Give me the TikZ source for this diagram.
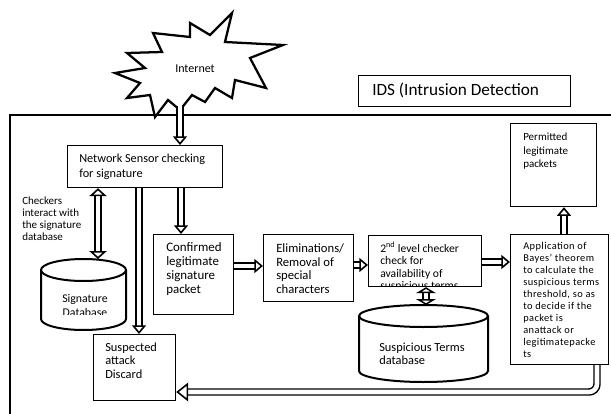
\documentclass[tikz,border=0pt]{standalone}
\usepackage{fontspec}
\setmainfont{Carlito}
\newfontfamily\appfont[LetterSpace=4]{Carlito}
\usetikzlibrary{arrows.meta,calc}
\begin{document}
\begin{tikzpicture}[x=0.75pt,y=-0.75pt,
  box/.style={draw, line width=0.9pt, inner sep=0pt, anchor=north west},
  area/.style={inner sep=0pt, anchor=north west},
  txt/.style={inner sep=0pt, anchor=north west, align=left},
  conn/.style={double, double distance=3.4pt, line width=1.1pt},
  arr/.style={conn, -{Triangle[open,length=6.5pt,width=10.5pt,line width=1.2pt]}},
  barr/.style={conn, {Triangle[open,length=6pt,width=13pt,line width=1.2pt]}-{Triangle[open,length=6pt,width=13pt,line width=1.2pt]}},
  sbarr/.style={conn, {Triangle[open,length=4.5pt,width=15pt,line width=1.2pt]}-{Triangle[open,length=4.5pt,width=15pt,line width=1.2pt]}},
  bigarr/.style={conn, -{Triangle[open,length=9pt,width=14pt,line width=1.2pt]}},
  cyl/.style={line width=1.5pt},
]
\useasboundingbox (0,0) rectangle (611,414);
% outer frame
\draw[line width=1.5pt] (10,414) -- (10,115) -- (611,115);
% internet star
\draw[line width=1.7pt, fill=white, line join=miter] (232,13) -- (225,42) -- (283,45) -- (250,58) -- (266,88) -- (235,80) -- (232,98) -- (215,88) -- (205,102) -- (192,95) -- (180,110) -- (168,100) -- (155,117) -- (150,95) -- (127,98) -- (140,83) -- (115,73) -- (145,68) -- (127,53) -- (162,52) -- (153,33) -- (190,37) -- (190,23) -- (210,35) -- cycle;
\node[inner sep=0pt, font=\fontsize{9}{10}\selectfont] (inet) at (195,69) {Internet};
% IDS label
\node[box, minimum width=159pt, minimum height=23.25pt] (ids) at (358,75) {};
\node[anchor=base west, inner sep=0pt, font=\fontsize{12.9}{15}\selectfont] (idst) at (372,95.7) {IDS (Intrusion Detection};
% boxes
\node[box, minimum width=116.25pt, minimum height=31.5pt] (ns) at (67,145) {};
\node[txt, font=\fontsize{9.2}{11.25}\selectfont] (nst) at (79,151.6) {\strut Network Sensor checking\\for signature};
\node[txt, font=\fontsize{8.25}{9}\selectfont] (chk) at (22,196.2) {\strut Checkers\\interact with\\the signature\\database};
\node[box, minimum width=61.5pt, minimum height=49.5pt] (susp) at (93,334) {};
\node[txt, font=\fontsize{9.3}{10.1}\selectfont] (suspt) at (105,341.6) {\strut Suspected\\attack\\Discard};
\node[box, minimum width=60pt, minimum height=60pt] (conf) at (153,234) {};
\node[txt, font=\fontsize{9.7}{10.5}\selectfont] (conft) at (166,241.5) {\strut Confirmed\\legitimate\\signature\\packet};
\node[box, minimum width=67.5pt, minimum height=50.25pt] (elim) at (263,234) {};
\node[txt, font=\fontsize{9.5}{10.3}\selectfont] (elimt) at (276,242.6) {\strut Eliminations/\\Removal of\\special\\characters};
\node[box, minimum width=84.75pt, minimum height=38.25pt] (sec) at (368,235) {};
\begin{scope}
\clip (368,235) rectangle (481,285.5);
\node[txt, font=\fontsize{8.7}{9.4}\selectfont] (sect) at (380,241.1) {\strut 2\textsuperscript{nd} level checker\\check for\\availability of\\suspicious terms};
\end{scope}
\node[box, minimum width=73.5pt, minimum height=97.5pt] (app) at (510,234) {};
\node[txt, font=\appfont\fontsize{7.8}{9}\selectfont] (appt) at (523,241) {\strut Application of\\Bayes’ theorem\\to calculate the\\suspicious terms\\threshold, so as\\to decide if the\\packet is\\anattack or\\legitimatepacke\\ts};
\node[box, minimum width=64.5pt, minimum height=62.25pt] (perm) at (510,123) {};
\node[txt, font=\fontsize{8.25}{10}\selectfont] (permt) at (523,131.3) {\strut Permitted\\legitimate\\packets};
% signature database cylinder
\node[area, minimum width=63.75pt, minimum height=53.25pt] (sigdb) at (41,259) {};
\draw[cyl] (41,270) -- (41,319) arc[start angle=180, end angle=360, x radius=31.875pt, y radius=8.25pt] -- (126,270);
\draw[cyl] (83.5,270) ellipse [x radius=31.875pt, y radius=8.25pt];
\begin{scope}
\clip (41,282) rectangle (126,314);
\node[inner sep=0pt, anchor=north, align=center, font=\fontsize{8.85}{10.5}\selectfont] (sigt) at (85,292.1) {\strut Signature\\Database};
\end{scope}
% suspicious terms database cylinder
\node[area, minimum width=96.75pt, minimum height=57.75pt] (susdb) at (359,305) {};
\draw[cyl] (359,316) -- (359,371) arc[start angle=180, end angle=360, x radius=48.375pt, y radius=8.25pt] -- (488,316);
\draw[cyl] (423.5,316) ellipse [x radius=48.375pt, y radius=8.25pt];
\node[txt, font=\fontsize{9.3}{9.5}\selectfont] (susdbt) at (379,342.2) {\strut Suspicious Terms\\database};
% connectors
\coordinate (a1) at (180,106);
\draw[arr] (a1) -- (a1 |- ns.north);
\coordinate (a2) at (98,0);
\draw[barr] (a2 |- ns.south) -- (a2 |- sigdb.north);
\coordinate (a3) at (139,0);
\draw[arr] (a3 |- ns.south) -- (a3 |- susp.north);
\coordinate (a4) at (181,0);
\draw[arr] (a4 |- ns.south) -- (a4 |- conf.north);
\coordinate (a5) at (0,266);
\draw[arr] (a5 -| conf.east) -- (a5 -| elim.west);
\coordinate (a6) at (0,265);
\draw[arr] (a6 -| elim.east) -- (a6 -| sec.west);
\coordinate (a7) at (426,0);
\draw[sbarr] (a7 |- sec.south) -- (a7 |- susdb.north);
\coordinate (a8) at (0,262);
\draw[arr] (a8 -| sec.east) -- (a8 -| app.west);
\coordinate (a9) at (564,0);
\draw[arr] (a9 |- app.north) -- (a9 |- perm.south);
\coordinate (a10) at (597,392);
\draw[bigarr, rounded corners=6pt] (a10 |- app.south) -- (a10) -- (a10 -| susp.east);
\end{tikzpicture}
\end{document}
